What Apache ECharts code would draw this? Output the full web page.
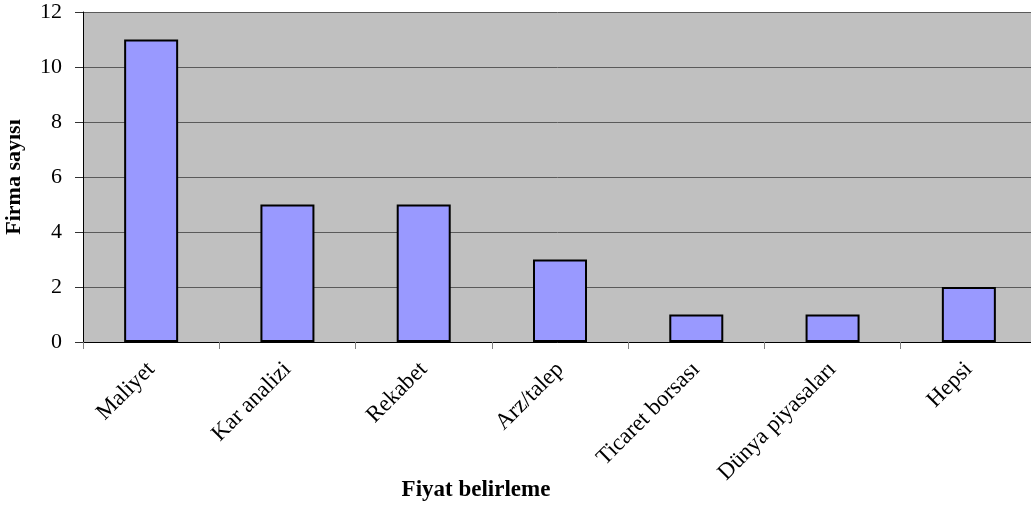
<!DOCTYPE html>
<html><head><meta charset="utf-8">
<script src="https://cdn.jsdelivr.net/npm/echarts@6/dist/echarts.min.js"></script>
<style>html,body{margin:0;padding:0;background:#fff}#c{width:1031px;height:508px}</style>
</head><body><div id="c"></div>
<script>
const categories = ['Maliyet','Kar analizi','Rekabet','Arz/talep','Ticaret borsası','Dünya piyasaları','Hepsi'];
const values = [11,5,5,3,1,1,2];
const yTicks = [0,2,4,6,8,10,12];
const chart = echarts.init(document.getElementById('c'));
const serif = '"Liberation Serif","Times New Roman",serif';
chart.setOption({
  animation:false,
  grid:{left:83,width:954,top:12,bottom:166,show:true,backgroundColor:'#C0C0C0',borderWidth:0,
    containLabel:false,outerBoundsMode:'none'},
  xAxis:{type:'category',data:categories,
    axisLine:{lineStyle:{color:'#000',width:1}},
    axisTick:{show:true,length:7,lineStyle:{color:'#808080'}},
    axisLabel:{rotate:45,fontFamily:serif,fontSize:23,color:'#000',margin:24,interval:0},
    splitLine:{show:false}},
  yAxis:{type:'value',min:yTicks[0],max:yTicks[yTicks.length-1],interval:2,
    name:'Firma sayısı',nameLocation:'middle',nameGap:58,
    nameTextStyle:{fontFamily:serif,fontSize:22,fontWeight:'bold',color:'#000'},
    axisLine:{show:true,lineStyle:{color:'#000'}},
    axisTick:{show:true,length:8,lineStyle:{color:'#333'}},
    axisLabel:{fontFamily:serif,fontSize:22,color:'#000',margin:21},
    splitLine:{show:true,lineStyle:{color:'#5a5a5a',width:1}}},
  graphic:[{type:'text',x:476,y:490,style:{text:'Fiyat belirleme',font:'bold 23px '+serif,fill:'#000',align:'center',verticalAlign:'middle'}}],
  series:[{type:'bar',data:values,barWidth:54,
    itemStyle:{color:'#9999FF',borderColor:'#000',borderWidth:2}}]
});
</script></body></html>
